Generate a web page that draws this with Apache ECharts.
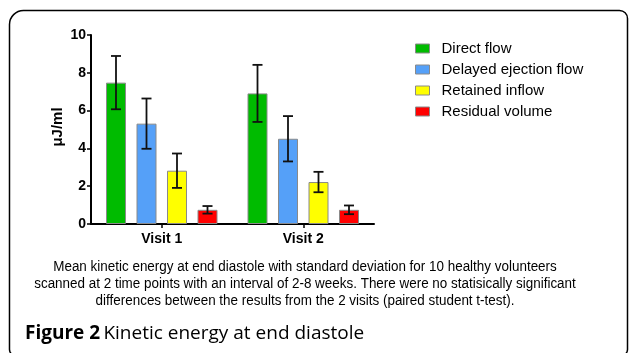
<!DOCTYPE html>
<html>
<head>
<meta charset="utf-8">
<script src="https://cdn.jsdelivr.net/npm/echarts@6/dist/echarts.min.js"></script>
<style>
html,body{margin:0;padding:0;background:#fff;}
#c{width:629px;height:353px;}
</style>
</head>
<body>
<div id="c"></div>
<script>
const categories = ['Visit 1', 'Visit 2'];
const seriesNames = ['Direct flow', 'Delayed ejection flow', 'Retained inflow', 'Residual volume'];
const directFlow = [7.48, 6.91];
const delayedEjection = [5.31, 4.51];
const retainedInflow = [2.82, 2.22];
const residualVolume = [0.75, 0.75];
const directFlowSD = [1.41, 1.51];
const delayedEjectionSD = [1.33, 1.20];
const retainedInflowSD = [0.91, 0.54];
const residualVolumeSD = [0.20, 0.23];
const yTicks = [0, 2, 4, 6, 8, 10];
const captionLines = [
  'Mean kinetic energy at end diastole with standard deviation for 10 healthy volunteers',
  'scanned at 2 time points with an interval of 2-8 weeks. There were no statisically significant',
  'differences between the results from the 2 visits (paired student t-test).'
];

const means = [directFlow, delayedEjection, retainedInflow, residualVolume];
const sds = [directFlowSD, delayedEjectionSD, retainedInflowSD, residualVolumeSD];
const colors = ['#00bb00', '#55a0f8', '#ffff00', '#ff0000'];
const BAR_W = 20, GAP = 10.5;

const chart = echarts.init(document.getElementById('c'), null, {renderer: 'canvas'});

const series = [];
means.forEach((m, i) => {
  series.push({
    name: seriesNames[i], type: 'bar', data: m, barWidth: BAR_W, barGap: (GAP / BAR_W * 100) + '%',
    itemStyle: {color: colors[i], borderColor: '#8a8a8a', borderWidth: 1},
    emphasis: {disabled: true}, z: 2
  });
});
means.forEach((m, i) => {
  series.push({
    type: 'custom', name: seriesNames[i] + ' SD', z: 5,
    data: m.map((v, j) => [j, v - sds[i][j], v + sds[i][j]]),
    renderItem: function (params, api) {
      const c = api.coord([api.value(0), api.value(2)]);
      const lo = api.coord([api.value(0), api.value(1)]);
      const x = c[0] + (i - 1.5) * (BAR_W + GAP);
      const hw = 5;
      const st = {stroke: '#111', lineWidth: 1.8};
      return {type: 'group', children: [
        {type: 'line', shape: {x1: x, y1: c[1], x2: x, y2: lo[1]}, style: st},
        {type: 'line', shape: {x1: x - hw, y1: c[1], x2: x + hw, y2: c[1]}, style: st},
        {type: 'line', shape: {x1: x - hw, y1: lo[1], x2: x + hw, y2: lo[1]}, style: st}
      ]};
    }
  });
});

const graphics = [
  {type: 'rect', shape: {x: 9.5, y: 10.5, width: 618, height: 345, r: [14, 8, 6, 6]},
   style: {fill: 'none', stroke: '#000', lineWidth: 1.5}, silent: true},
  {type: 'text', x: 58, y: 127, rotation: Math.PI / 2,
   style: {text: 'μJ/ml', font: 'bold 15px "Liberation Sans", Arial', fill: '#000', align: 'center', verticalAlign: 'middle'}},
  {type: 'text', x: 25, y: 334,
   style: {rich: {b: {font: 'bold 19px "Open Sans"', fill: '#000'}, n: {font: '19px "Open Sans"', fill: '#000'}},
           text: '{b|Figure 2} {n|Kinetic energy at end diastole}', verticalAlign: 'middle'}}
];
captionLines.forEach((t, k) => {
  graphics.push({type: 'text', x: 305, y: 267.5 + k * 16.7, scaleX: 0.96,
    style: {text: t, font: '14px "Liberation Sans", Arial', fill: '#000', align: 'center', verticalAlign: 'middle'}});
});

chart.setOption({
  animation: false,
  grid: {left: 91, top: 35, width: 283, height: 189, containLabel: false},
  legend: {
    orient: 'vertical', left: 415, top: 41, padding: 0, itemWidth: 14, itemHeight: 9, itemGap: 6, icon: 'rect',
    data: seriesNames.map((n, i) => ({name: n, itemStyle: {color: colors[i], borderColor: '#8a8a8a', borderWidth: 1}})),
    textStyle: {fontFamily: '"Liberation Sans", Arial', fontSize: 15, lineHeight: 15, color: '#000', padding: [0, 0, 0, 7]},
    selectedMode: false
  },
  xAxis: {
    type: 'category', data: categories,
    axisLine: {lineStyle: {color: '#000', width: 2}},
    axisTick: {show: true, alignWithLabel: true, length: 4, lineStyle: {color: '#000', width: 1.5}},
    axisLabel: {color: '#000', fontWeight: 'bold', fontSize: 14, fontFamily: '"Liberation Sans", Arial', margin: 8}
  },
  yAxis: {
    type: 'value', min: 0, max: 10, interval: 2,
    axisLine: {show: true, lineStyle: {color: '#000', width: 2}},
    axisTick: {show: true, length: 4, lineStyle: {color: '#000', width: 1.5}},
    splitLine: {show: false},
    axisLabel: {color: '#000', fontWeight: 'bold', fontSize: 14, fontFamily: '"Liberation Sans", Arial', margin: 5,
      formatter: v => yTicks.includes(v) ? String(v) : ''}
  },
  series: series,
  graphic: graphics
});
</script>
</body>
</html>
